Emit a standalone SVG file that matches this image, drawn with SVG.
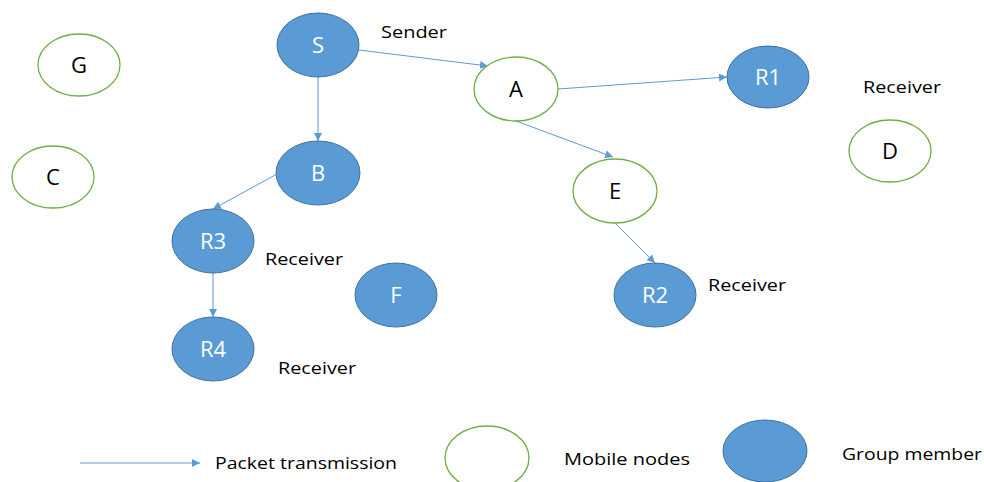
<svg xmlns="http://www.w3.org/2000/svg" width="984" height="482" viewBox="0 0 984 482">
<style>
.m{fill:#5B9BD5;stroke:#41719C;stroke-width:1}
.h{fill:#fff;stroke:#70AD47;stroke-width:1.3}
.wl{font-family:"Open Sans","Liberation Sans",sans-serif;font-size:22px;fill:#fff;text-anchor:middle}
.bl{font-family:"Open Sans","Liberation Sans",sans-serif;font-size:22px;fill:#000;text-anchor:middle}
.t{font-family:"Open Sans","Liberation Sans",sans-serif;font-size:17px;fill:#000}
.c{stroke:#5B9BD5;stroke-width:1;fill:none;marker-end:url(#ah)}
</style>
<defs>
<marker id="ah" viewBox="0 0 10 10" refX="10" refY="5" markerWidth="8" markerHeight="8" markerUnits="userSpaceOnUse" orient="auto">
<path d="M0,0 L10,5 L0,10 z" fill="#5B9BD5"/>
</marker>
</defs>
<rect width="984" height="482" fill="#fff"/>
<g id="connectors">
<line class="c" x1="359" y1="50" x2="488" y2="66"/>
<line class="c" x1="318" y1="77" x2="318" y2="141"/>
<line class="c" x1="558" y1="89" x2="727" y2="77"/>
<line class="c" x1="516" y1="121" x2="613" y2="157"/>
<line class="c" x1="277" y1="174" x2="213" y2="209"/>
<line class="c" x1="213" y1="273" x2="213" y2="317"/>
<line class="c" x1="615" y1="223" x2="655" y2="263"/>
<line class="c" x1="80" y1="463" x2="200" y2="463"/>
</g>
<g id="S"><ellipse class="m" cx="318" cy="45" rx="41" ry="32"/><text class="wl" x="318" y="53">S</text></g>
<g id="A"><ellipse class="h" cx="516" cy="89" rx="42" ry="32"/><text class="bl" x="516" y="97">A</text></g>
<g id="R1"><ellipse class="m" cx="768" cy="77" rx="41" ry="31"/><text class="wl" x="768" y="85">R1</text></g>
<g id="D"><ellipse class="h" cx="890" cy="151" rx="41" ry="31"/><text class="bl" x="890" y="159">D</text></g>
<g id="G"><ellipse class="h" cx="79" cy="65" rx="41" ry="31"/><text class="bl" x="79" y="73">G</text></g>
<g id="C"><ellipse class="h" cx="53" cy="177" rx="41" ry="31"/><text class="bl" x="53" y="185">C</text></g>
<g id="B"><ellipse class="m" cx="318" cy="173" rx="42" ry="32"/><text class="wl" x="318" y="181">B</text></g>
<g id="E"><ellipse class="h" cx="615" cy="191" rx="42" ry="32"/><text class="bl" x="615" y="199">E</text></g>
<g id="R3"><ellipse class="m" cx="213" cy="241" rx="41" ry="32"/><text class="wl" x="213" y="249">R3</text></g>
<g id="R4"><ellipse class="m" cx="213" cy="349" rx="41" ry="32"/><text class="wl" x="213" y="357">R4</text></g>
<g id="F"><ellipse class="m" cx="396" cy="295" rx="41" ry="32"/><text class="wl" x="396" y="303">F</text></g>
<g id="R2"><ellipse class="m" cx="655" cy="295" rx="41" ry="32"/><text class="wl" x="655" y="303">R2</text></g>
<g id="labels">
<text class="t" x="381" y="38" textLength="66" lengthAdjust="spacingAndGlyphs">Sender</text>
<text class="t" x="863" y="93" textLength="78" lengthAdjust="spacingAndGlyphs">Receiver</text>
<text class="t" x="265" y="265" textLength="78" lengthAdjust="spacingAndGlyphs">Receiver</text>
<text class="t" x="278" y="374" textLength="78" lengthAdjust="spacingAndGlyphs">Receiver</text>
<text class="t" x="708" y="291" textLength="78" lengthAdjust="spacingAndGlyphs">Receiver</text>
</g>
<g id="legend">
<ellipse class="h" cx="487" cy="458" rx="42" ry="32"/>
<ellipse class="m" cx="765" cy="451" rx="42" ry="31"/>
<text class="t" x="215" y="469" textLength="182" lengthAdjust="spacingAndGlyphs">Packet transmission</text>
<text class="t" x="564" y="465" textLength="126" lengthAdjust="spacingAndGlyphs">Mobile nodes</text>
<text class="t" x="842" y="460" textLength="140" lengthAdjust="spacingAndGlyphs">Group member</text>
</g>
</svg>
